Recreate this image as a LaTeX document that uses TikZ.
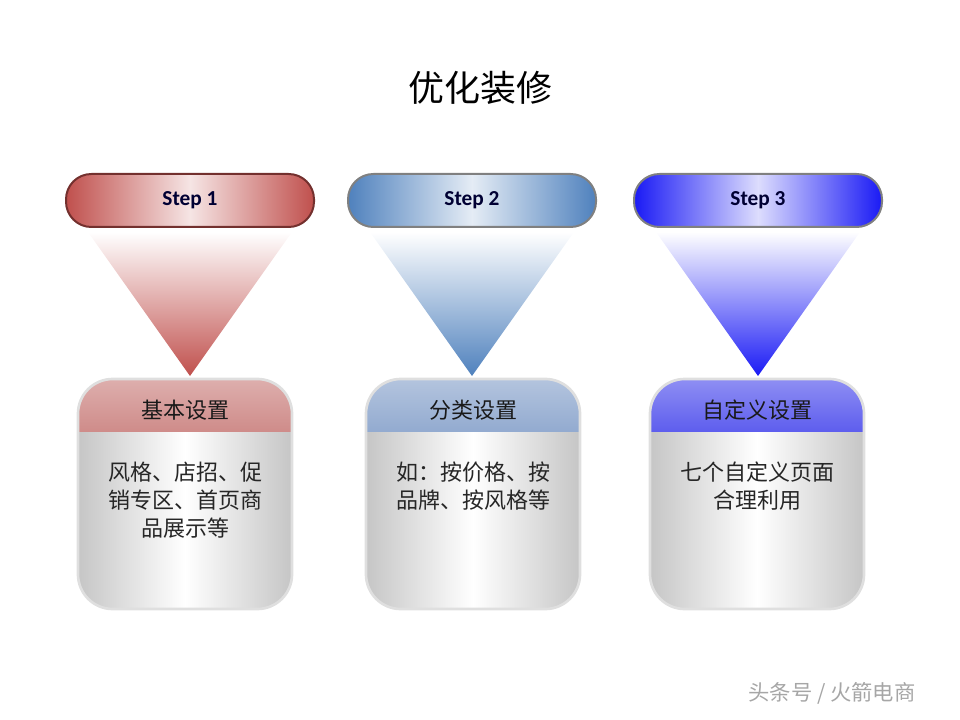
\documentclass[tikz,border=0pt]{standalone}
\usepackage{fontspec}
\newfontfamily\cjk{Noto Sans CJK SC}
\setsansfont{Carlito}
\begin{document}
\begin{tikzpicture}[x=0.75pt,y=-0.75pt,
 steptxt/.style={font=\sffamily\bfseries\fontsize{16}{18}\selectfont, text=black!80!blue},
 body/.style={font=\cjk\fontsize{16.5}{21}\selectfont, align=center, text=black!85},
 head/.style={font=\cjk\fontsize{16.5}{20}\selectfont, text=black!90}]
\useasboundingbox (0,0) rectangle (960,720);
\node[font=\cjk\fontsize{27}{32}\selectfont] (title) at (480,88) {优化装修};
\definecolor{c1}{HTML}{C0504D}\definecolor{c2}{HTML}{4F81BD}\definecolor{c3}{HTML}{1A1AF5}
\definecolor{h1}{HTML}{CF8C8A}\definecolor{h2}{HTML}{93ABD0}\definecolor{h3}{HTML}{5E5EEE}
\foreach \cx/\bx/\c/\h/\o/\n/\t in {190/185/c1/h1/c1!60!black/1/基本设置, 472/473/c2/h2/gray/2/分类设置, 758/757/c3/h3/gray/3/自定义设置}{
  \shade[top color=white, bottom color=\c] (\cx-102,232) -- (\cx+102,232) -- (\cx,376) -- cycle;
  \shade[left color=\c, right color=\c, middle color=white!85!\c, rounded corners=19pt]
     (\cx-124,174) rectangle (\cx+124,227);
  \draw[\o, line width=1.5pt, rounded corners=19pt] (\cx-124,174) rectangle (\cx+124,227);
  \node[steptxt] (s\n) at (\cx,200) {Step \n};
  \shade[left color=gray!45, right color=gray!45, middle color=white, rounded corners=26pt]
     (\bx-107,379) rectangle (\bx+107,609);
  \begin{scope}
   \clip[rounded corners=26pt] (\bx-107,379) rectangle (\bx+107,609);
   \shade[top color=\h!70, bottom color=\h] (\bx-107,379) rectangle (\bx+107,431);
  \end{scope}
  \draw[gray!25, line width=2pt, rounded corners=26pt] (\bx-107,379) rectangle (\bx+107,609);
  \node[head] (h\n) at (\bx,410) {\t};
}
\node[body] (b1) at (185,500) {风格、店招、促\\销专区、首页商\\品展示等};
\node[body] (b2) at (473,486) {如：按价格、按\\品牌、按风格等};
\node[body] (b3) at (757,486) {七个自定义页面\\合理利用};
\node[font=\cjk\fontsize{16}{20}\selectfont, text=gray!70] (wm) at (832,693) {头条号 / 火箭电商};
\end{tikzpicture}
\end{document}
